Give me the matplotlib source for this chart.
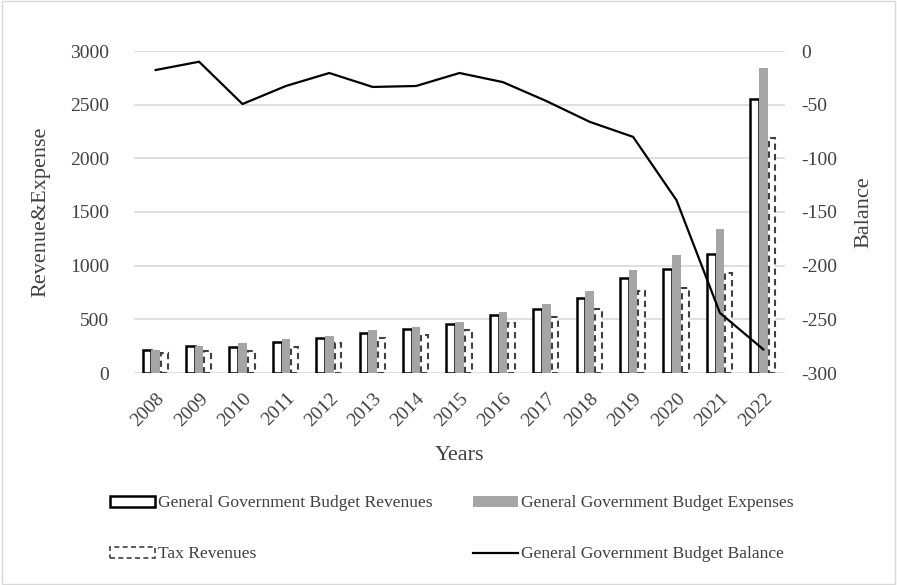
import numpy as np
import matplotlib.pyplot as plt
from matplotlib.patches import Patch, Rectangle
from matplotlib.lines import Line2D

plt.rcParams['font.family'] = ['Liberation Serif', 'DejaVu Serif']
plt.rcParams['axes.unicode_minus'] = False

years = ['2008', '2009', '2010', '2011', '2012', '2013', '2014', '2015',
         '2016', '2017', '2018', '2019', '2020', '2021', '2022']
revenues = [215, 254, 245, 289, 329, 376, 407, 457, 543, 599, 696, 888, 966, 1106, 2553]
expenses = [212, 254, 282, 314, 345, 401, 431, 472, 571, 646, 764, 957, 1100, 1345, 2842]
tax_revenues = [186, 205, 208, 240, 277, 323, 354, 401, 463, 519, 599, 764, 795, 929, 2190]
balance = [-17.7, -10, -49.4, -32.6, -20.5, -33.5, -32.6, -20.5, -29, -46.6, -66, -80, -139, -244, -278]

fig = plt.figure(figsize=(8.97, 5.85), dpi=100)
ax = fig.add_axes([134/897, 1-373/585, (785-134)/897, (373-51)/585])
ax2 = ax.twinx()

x = np.arange(len(years))
w = 0.2
ax.set_axisbelow(True)
ax.bar(x - w, revenues, w, facecolor='white', edgecolor='black', linewidth=1.8, zorder=3)
ax.bar(x, expenses, w, color='#a5a5a5', zorder=3)
ax.bar(x + w, tax_revenues, w * 0.8, facecolor='white', edgecolor='#404040',
       linewidth=1.5, linestyle=(0, (3, 2)), zorder=3)
ax2.plot(x, balance, color='black', linewidth=1.6)

ax.set_xlim(-0.5, len(years) - 0.5)
ax.set_ylim(0, 3000)
ax.set_yticks(range(0, 3001, 500))
ax2.set_ylim(-300, 0)
ax2.set_yticks(range(-300, 1, 50))
ax.yaxis.grid(True, color='#d9d9d9', linewidth=1.2)
ax.set_xticks(x)
ax.set_xticklabels(years, rotation=45, ha='right', rotation_mode='anchor',
                   fontsize=14, color='#404040')

for a in (ax, ax2):
    for s in a.spines.values():
        s.set_visible(False)
    a.tick_params(length=0, labelsize=14, labelcolor='#404040')
ax.tick_params(axis='x', pad=12)
ax.tick_params(axis='y', pad=18)
ax2.tick_params(axis='y', pad=12)

ax.set_xlabel('Years', fontsize=16, color='#404040', labelpad=12)
ax.set_ylabel('Revenue&Expense', fontsize=16, color='#404040', labelpad=14)
ax2.set_ylabel('Balance', fontsize=16, color='#404040', labelpad=12)

h_rev = Patch(facecolor='white', edgecolor='black', linewidth=1.8)
h_exp = Patch(facecolor='#a5a5a5')
h_tax = Patch(facecolor='white', edgecolor='#404040', linewidth=1.2, linestyle=(0, (3, 2)))
h_bal = Line2D([0], [0], color='black', linewidth=1.6)
# matplotlib fills legend columns first
handles = [h_rev, h_tax, h_exp, h_bal]
labels = ['General Government Budget Revenues', 'Tax Revenues',
          'General Government Budget Expenses', 'General Government Budget Balance']
fig.legend(handles, labels, ncol=2, loc='upper left', bbox_to_anchor=(0.105, 0.18),
           frameon=False, fontsize=12.6, handlelength=2.6, handleheight=0.55,
           columnspacing=2.3, labelspacing=2.0, handletextpad=0.15,
           labelcolor='#404040')

fig.patches.append(Rectangle((0.002, 0.002), 0.996, 0.996, transform=fig.transFigure,
                             fill=False, edgecolor='#d9d9d9', linewidth=1))
fig.savefig('out.png', dpi=100)
